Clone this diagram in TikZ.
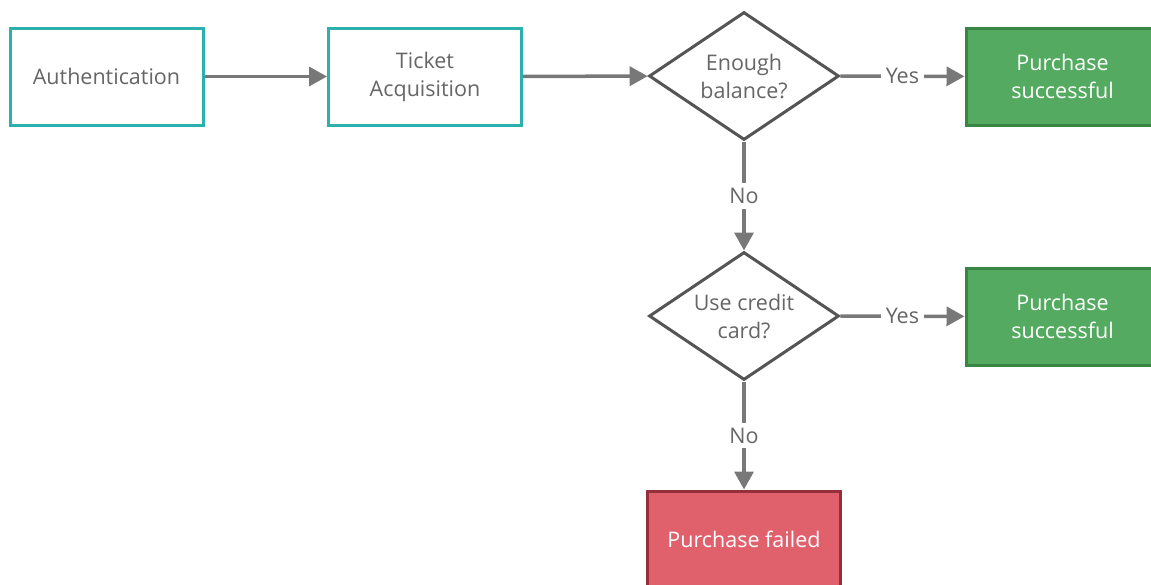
\documentclass[tikz,border=0pt]{standalone}
\usepackage{fontspec}
\setmainfont{Open Sans}
\usetikzlibrary{shapes.geometric,arrows.meta}
\definecolor{tealline}{RGB}{43,176,173}
\definecolor{textgray}{RGB}{102,102,102}
\definecolor{diagray}{RGB}{85,85,85}
\definecolor{arrowgray}{RGB}{120,120,120}
\definecolor{greenfill}{RGB}{84,170,96}
\definecolor{greenline}{RGB}{58,132,68}
\definecolor{redfill}{RGB}{224,96,108}
\definecolor{redline}{RGB}{148,48,58}
\tikzset{
  label font/.style={font=\fontsize{21.5}{28}\selectfont},
  task/.style={rectangle, draw=tealline, line width=3pt, fill=white, text=textgray,
    minimum width=193pt, minimum height=97pt, align=center, inner sep=0, label font},
  choice/.style={diamond, draw=diagray, line width=3pt, fill=white, text=textgray,
    minimum width=190pt, minimum height=128pt, aspect=1.48, align=center, inner sep=0, label font},
  good/.style={task, draw=greenline, fill=greenfill, text=white},
  bad/.style={task, draw=redline, fill=redfill, text=white},
  flow/.style={draw=arrowgray, line width=3.5pt, -{Triangle[length=18pt,width=19pt]}},
  answer/.style={fill=white, text=textgray, inner sep=5pt, label font}
}
\begin{document}
\begin{tikzpicture}[x=1pt,y=-1pt]
\useasboundingbox (0,0) rectangle (1151,584);
% top row
\node[task] (auth) at (106.5,76.5) {Authentication};
\node[task] (ticket) at (425,76.5) {Ticket\\Acquisition};
\node[choice] (balance) at (744,76) {Enough\\balance?};
\node[good] (paid) at (1062.5,76.5) {Purchase\\successful};
% credit card branch
\node[choice] (credit) at (744,316) {Use credit\\card?};
\node[good] (paidcard) at (1062.5,316.5) {Purchase\\successful};
\node[bad] (failed) at (744,539.5) {Purchase failed};
\draw[flow] (auth) -- (ticket);
\draw[flow] (ticket) -- (balance);
\draw[flow] (balance) -- node[answer]{Yes} (paid);
\draw[flow] (balance) -- node[answer]{No} (credit);
\draw[flow] (credit) -- node[answer]{Yes} (paidcard);
\draw[flow] (credit) -- node[answer]{No} (failed);
\end{tikzpicture}
\end{document}
